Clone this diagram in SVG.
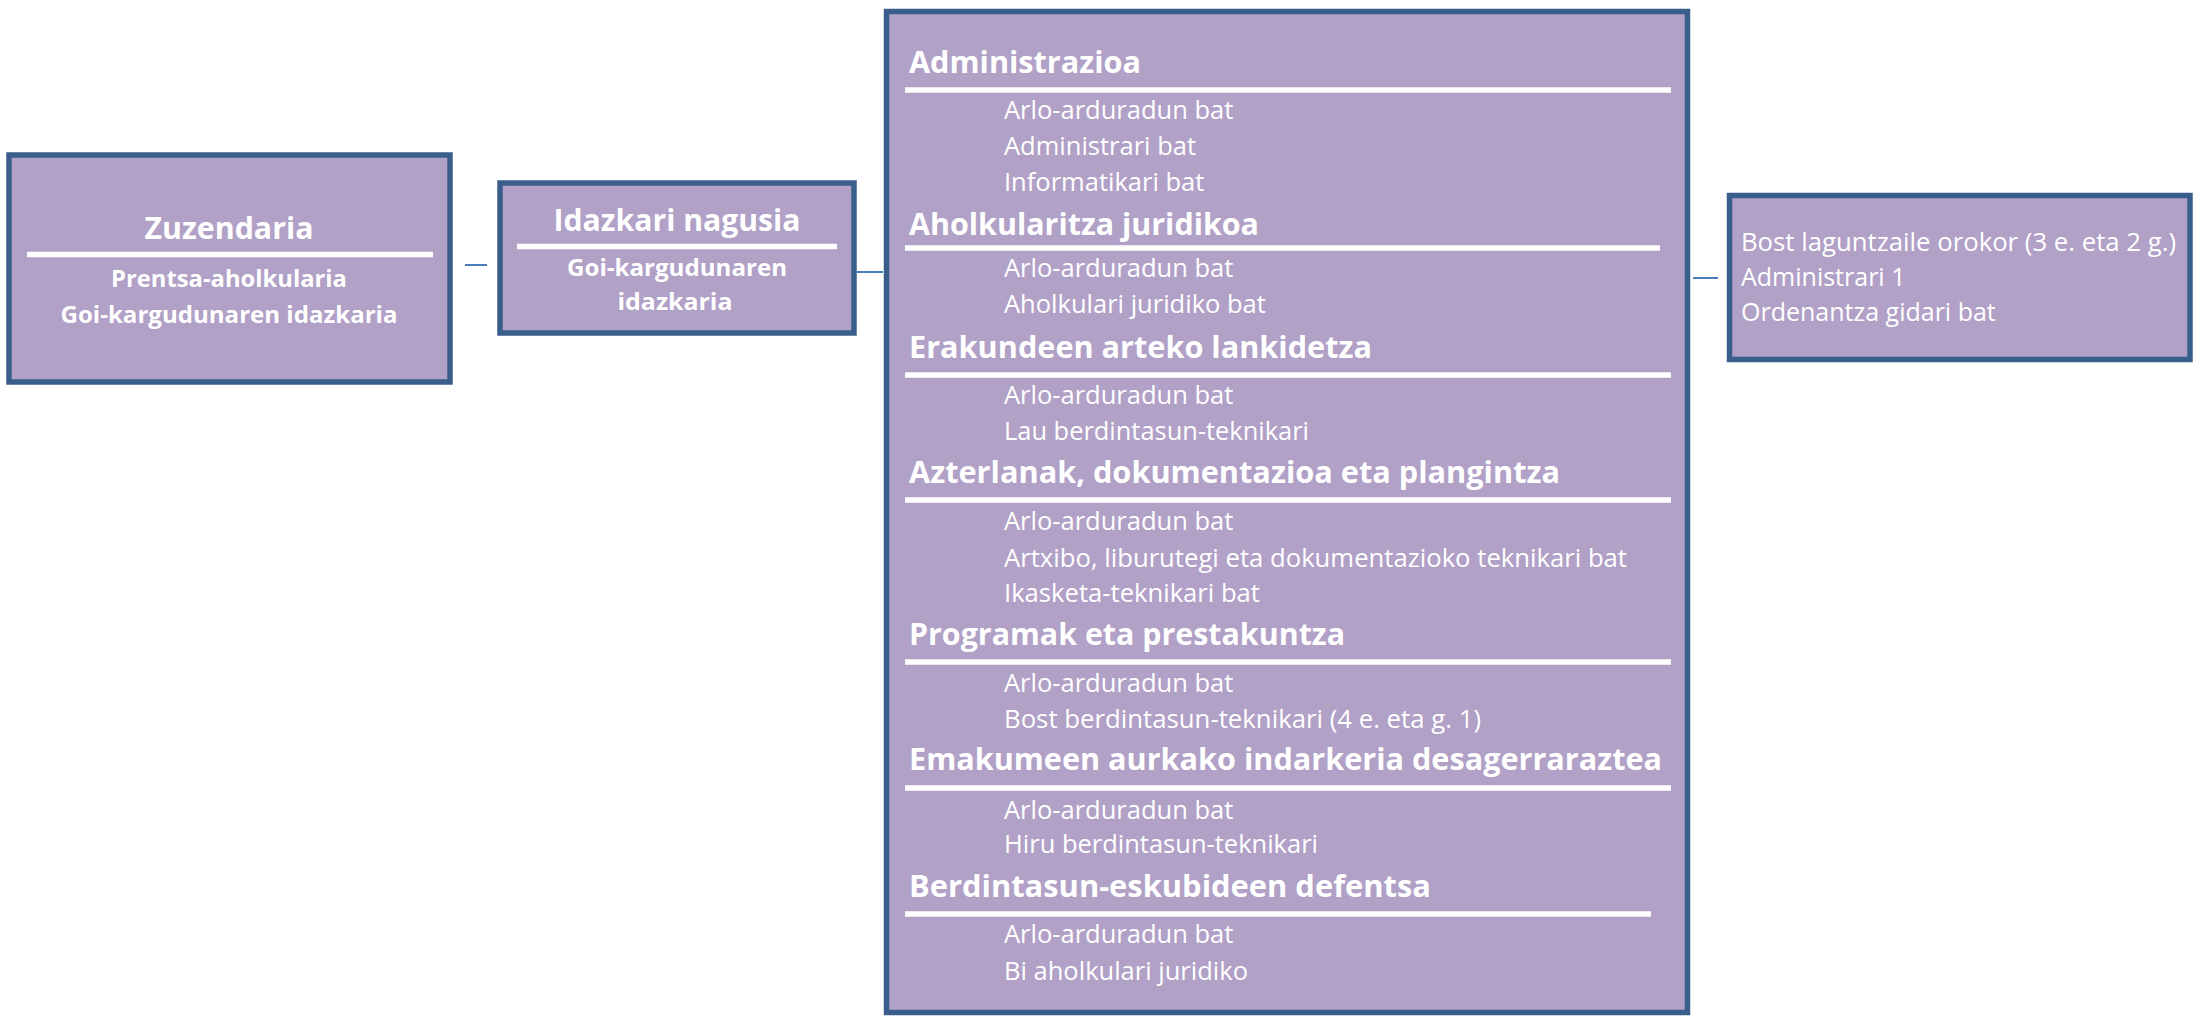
<svg xmlns="http://www.w3.org/2000/svg" width="2195" height="1016" viewBox="0 0 2195 1016">
  <style>
    .box { fill: #B1A1C7; stroke: #3A5E8B; stroke-width: 5.5; }
    .rule { stroke: #FFFFFF; stroke-width: 5.5; }
    .conn { stroke: #4A7EBB; stroke-width: 2; fill: none; }
    text { font-family: "Open Sans", "Noto Sans", "Liberation Sans", sans-serif; fill: #FFFFFF; }
    .t1 { font-weight: bold; font-size: 30px; text-anchor: middle; }
    .t2 { font-weight: bold; font-size: 23.5px; text-anchor: middle; }
    .sec { font-weight: bold; font-size: 31px; }
    .item { font-size: 25.5px; }
    .rt { font-size: 25px; }
  </style>
  <rect width="2195" height="1016" fill="#FFFFFF"/>
  <g id="connectors">
    <line class="conn" x1="465" y1="265" x2="487" y2="265"/>
    <line class="conn" x1="857" y1="272" x2="883" y2="272"/>
    <line class="conn" x1="1693" y1="278" x2="1718" y2="278"/>
  </g>
  <g id="zuzendaria">
    <rect class="box" x="9" y="155" width="441" height="227"/>
    <text class="t1" x="229" y="239" textLength="169" lengthAdjust="spacingAndGlyphs">Zuzendaria</text>
    <line class="rule" x1="27" y1="254.5" x2="433" y2="254.5"/>
    <text class="t2" x="229" y="287" textLength="236" lengthAdjust="spacingAndGlyphs">Prentsa-aholkularia</text>
    <text class="t2" x="229" y="323" textLength="337" lengthAdjust="spacingAndGlyphs">Goi-kargudunaren idazkaria</text>
  </g>
  <g id="idazkari-nagusia">
    <rect class="box" x="500" y="183" width="354" height="150"/>
    <text class="t1" x="677" y="231" textLength="247" lengthAdjust="spacingAndGlyphs">Idazkari nagusia</text>
    <line class="rule" x1="517" y1="246.5" x2="837" y2="246.5"/>
    <text class="t2" x="677" y="276" textLength="220" lengthAdjust="spacingAndGlyphs">Goi-kargudunaren</text>
    <text class="t2" x="675" y="310" textLength="115" lengthAdjust="spacingAndGlyphs">idazkaria</text>
  </g>
  <g id="arloak">
    <rect class="box" x="886.5" y="11.5" width="801" height="1001"/>
    <text class="sec" x="909" y="73" textLength="232" lengthAdjust="spacingAndGlyphs">Administrazioa</text>
    <line class="rule" x1="905" y1="90" x2="1671" y2="90"/>
    <text class="item" x="1004" y="119">Arlo-arduradun bat</text>
    <text class="item" x="1004" y="155">Administrari bat</text>
    <text class="item" x="1004" y="191">Informatikari bat</text>
    <text class="sec" x="909" y="235" textLength="350" lengthAdjust="spacingAndGlyphs">Aholkularitza juridikoa</text>
    <line class="rule" x1="905" y1="248" x2="1660" y2="248"/>
    <text class="item" x="1004" y="277">Arlo-arduradun bat</text>
    <text class="item" x="1004" y="313">Aholkulari juridiko bat</text>
    <text class="sec" x="909" y="358" textLength="463" lengthAdjust="spacingAndGlyphs">Erakundeen arteko lankidetza</text>
    <line class="rule" x1="905" y1="375" x2="1671" y2="375"/>
    <text class="item" x="1004" y="404">Arlo-arduradun bat</text>
    <text class="item" x="1004" y="440" textLength="305" lengthAdjust="spacingAndGlyphs">Lau berdintasun-teknikari</text>
    <text class="sec" x="909" y="483" textLength="651" lengthAdjust="spacingAndGlyphs">Azterlanak, dokumentazioa eta plangintza</text>
    <line class="rule" x1="905" y1="500" x2="1671" y2="500"/>
    <text class="item" x="1004" y="530">Arlo-arduradun bat</text>
    <text class="item" x="1004" y="567" textLength="623" lengthAdjust="spacingAndGlyphs">Artxibo, liburutegi eta dokumentazioko teknikari bat</text>
    <text class="item" x="1004" y="602" textLength="256" lengthAdjust="spacingAndGlyphs">Ikasketa-teknikari bat</text>
    <text class="sec" x="909" y="645" textLength="436" lengthAdjust="spacingAndGlyphs">Programak eta prestakuntza</text>
    <line class="rule" x1="905" y1="662" x2="1671" y2="662"/>
    <text class="item" x="1004" y="692">Arlo-arduradun bat</text>
    <text class="item" x="1004" y="728" textLength="477" lengthAdjust="spacingAndGlyphs">Bost berdintasun-teknikari (4 e. eta g. 1)</text>
    <text class="sec" x="909" y="770" textLength="753" lengthAdjust="spacingAndGlyphs">Emakumeen aurkako indarkeria desagerraraztea</text>
    <line class="rule" x1="905" y1="788" x2="1671" y2="788"/>
    <text class="item" x="1004" y="819">Arlo-arduradun bat</text>
    <text class="item" x="1004" y="853" textLength="314" lengthAdjust="spacingAndGlyphs">Hiru berdintasun-teknikari</text>
    <text class="sec" x="909" y="897" textLength="522" lengthAdjust="spacingAndGlyphs">Berdintasun-eskubideen defentsa</text>
    <line class="rule" x1="905" y1="914" x2="1651" y2="914"/>
    <text class="item" x="1004" y="943">Arlo-arduradun bat</text>
    <text class="item" x="1004" y="980" textLength="244" lengthAdjust="spacingAndGlyphs">Bi aholkulari juridiko</text>
  </g>
  <g id="laguntzaileak">
    <rect class="box" x="1729.5" y="195.5" width="460.5" height="164"/>
    <text class="rt" x="1741" y="251" textLength="435" lengthAdjust="spacingAndGlyphs">Bost laguntzaile orokor (3 e. eta 2 g.)</text>
    <text class="rt" x="1741" y="286">Administrari 1</text>
    <text class="rt" x="1741" y="321">Ordenantza gidari bat</text>
  </g>
</svg>
